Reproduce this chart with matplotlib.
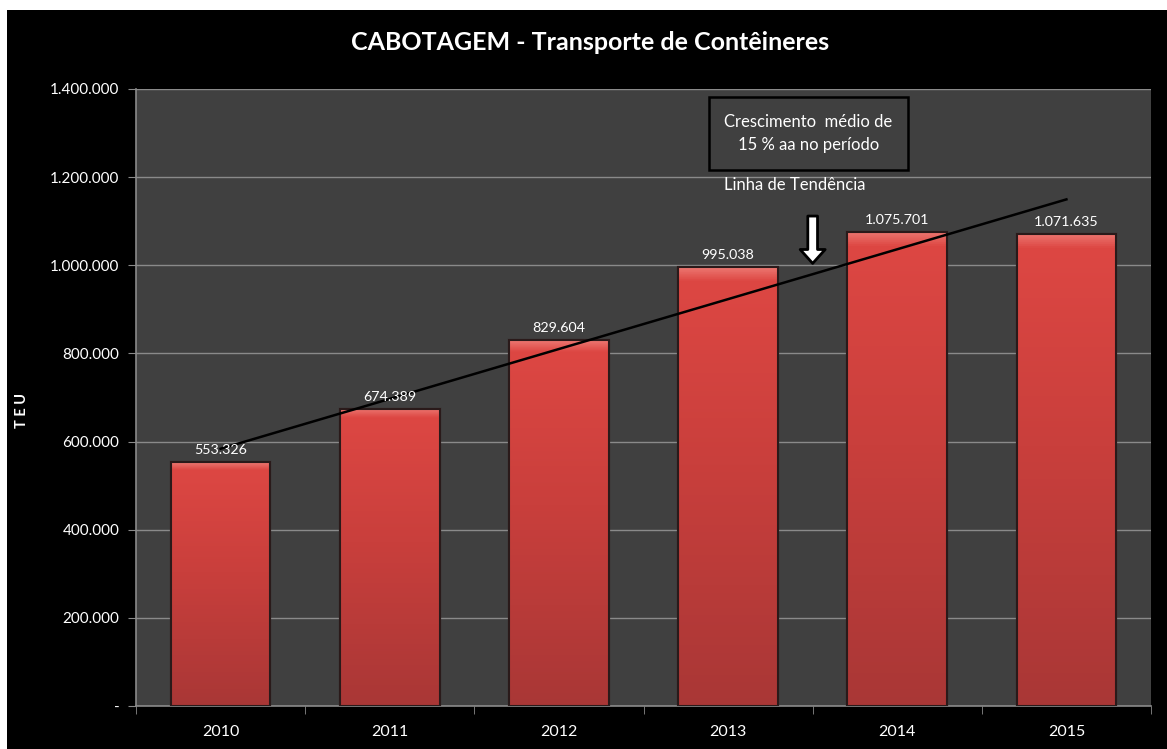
import numpy as np
import matplotlib.pyplot as plt
from matplotlib.patches import Rectangle
from matplotlib.colors import LinearSegmentedColormap
from matplotlib.ticker import FuncFormatter

# dados
anos = ['2010', '2011', '2012', '2013', '2014', '2015']
teu = [553326, 674389, 829604, 995038, 1075701, 1071635]
yticks = [0, 200000, 400000, 600000, 800000, 1000000, 1200000, 1400000]

plt.rcParams['font.family'] = ['Lato', 'DejaVu Sans']

fig = plt.figure(figsize=(11.67, 7.49), dpi=100, facecolor='white')
# moldura preta
fig.patches.append(Rectangle((7/1167, 0), 1, 739/749, transform=fig.transFigure,
                             facecolor='black', edgecolor='none', zorder=-10))

ax = fig.add_axes([136/1167, 1 - 706/749, 1015/1167, 617/749])
ax.set_facecolor('#404040')

x = np.arange(len(anos))
largura = 0.59
bars = ax.bar(x, teu, width=largura, color='#d64340', edgecolor='#2a1a1a',
              linewidth=1.5, zorder=3)

# gradiente nas barras (mais claro em cima)
cmap = LinearSegmentedColormap.from_list('verm', [(0, '#a93736'), (0.55, '#c93f3c'),
                                                  (0.97, '#dd4743'), (1, '#ec7670')])
grad = np.linspace(0, 1, 512).reshape(-1, 1)
for b in bars:
    bx, by = b.get_x(), b.get_y()
    w, h = b.get_width(), b.get_height()
    im = ax.imshow(grad, cmap=cmap, aspect='auto', origin='lower', interpolation='bilinear',
                   extent=[bx, bx + w, by, by + h], zorder=3.5)
    im.set_clip_path(b)
    ax.add_patch(Rectangle((bx, by), w, h, facecolor='none', edgecolor='#2a1a1a',
                           linewidth=1.5, zorder=4))

for xi, v in zip(x, teu):
    ax.text(xi, v + 14000, f'{v:,}'.replace(',', '.'), ha='center', va='bottom',
            color='white', fontsize=10.3, zorder=6)

# linha de tendência
coef = np.polyfit(x, teu, 1)
xt = np.array([x[0], x[-1]])
ax.plot(xt, np.polyval(coef, xt), color='black', linewidth=1.8, zorder=5)

ax.set_xlim(-0.5, len(anos) - 0.5)
ax.set_ylim(0, 1400000)
ax.set_yticks(yticks)
ax.yaxis.set_major_formatter(FuncFormatter(lambda v, p: '-' if v == 0 else f'{int(v):,}'.replace(',', '.')))
ax.set_xticks(x)
ax.set_xticklabels(anos)
ax.set_xticks(np.arange(-0.5, len(anos)), minor=True)
ax.tick_params(axis='x', which='major', length=0, colors='white', labelsize=11.5, pad=14)
ax.tick_params(axis='x', which='minor', length=6, color='#8a8a8a', direction='out')
ax.tick_params(axis='y', length=6, color='#8a8a8a', labelcolor='white', labelsize=11, pad=6)
ax.grid(axis='y', color='#8a8a8a', linewidth=1, zorder=0)
ax.set_axisbelow(True)
for s in ['top', 'right']:
    ax.spines[s].set_visible(False)
for s in ['left', 'bottom']:
    ax.spines[s].set_color('#8a8a8a')
    ax.spines[s].set_linewidth(1.2)

fig.text(22/1167, 1 - 410/749, 'T E U', rotation=90, ha='center', va='center',
         color='white', fontsize=10.5, fontweight='bold')

fig.text(590/1167, 1 - 42/749, 'CABOTAGEM - Transporte de Contêineres', ha='center', va='center',
         color='white', fontsize=18, fontweight='bold')

# caixa de texto
ax.add_patch(Rectangle((2.89, 1216000), 1.172, 165000, facecolor='#404040',
                       edgecolor='black', linewidth=1.8, zorder=6))
ax.text(3.476, 1299000, 'Crescimento  médio de\n15 % aa no período', ha='center', va='center',
        color='white', fontsize=12, linespacing=1.55, zorder=7)
ax.text(2.973, 1182000, 'Linha de Tendência', ha='left', va='center', color='white',
        fontsize=12, zorder=6)

# seta
ax.annotate('', xy=(3.5, 998000), xytext=(3.5, 1118000),
            arrowprops=dict(arrowstyle='simple,head_length=0.5,head_width=0.9,tail_width=0.35',
                            mutation_scale=20, facecolor='white', edgecolor='black', linewidth=2),
            zorder=6)

fig.savefig('out.png', dpi=100, facecolor='white')
